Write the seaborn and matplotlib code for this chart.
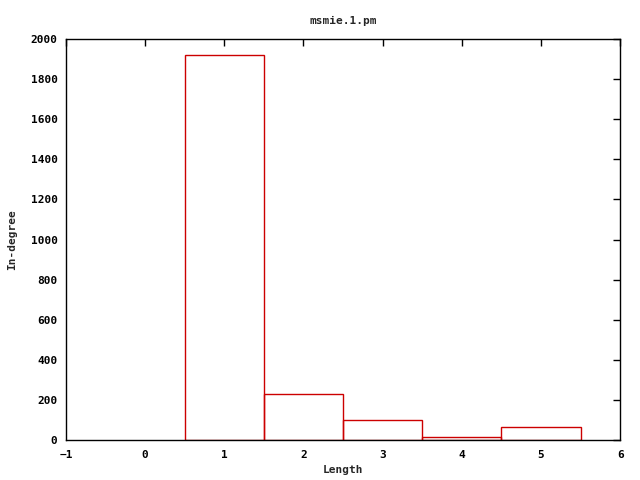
import matplotlib
matplotlib.use("Agg")
import matplotlib.pyplot as plt
import seaborn as sns
import pandas as pd

# Data
lengths = [1, 2, 3, 4, 5]
in_degree = [1918, 228, 98, 18, 68]

df = pd.DataFrame({"Length": lengths, "In-degree": in_degree})

sns.set_style("white")
plt.rcParams['font.family'] = ['DejaVu Sans Mono', 'DejaVu Sans']
plt.rcParams['font.size'] = 8
plt.rcParams['font.weight'] = 'bold'

fig = plt.figure(figsize=(6.4, 4.8), dpi=100)
ax = fig.add_axes([0.103, 0.083, 0.866, 0.836])

sns.histplot(data=df, x="Length", weights="In-degree", discrete=True,
             fill=False, color="#cc0000", linewidth=1, ax=ax)

ax.set_xlim(-1, 6)
ax.set_ylim(0, 2000)
ax.set_xticks(range(-1, 7))
ax.set_yticks(range(0, 2001, 200))
ax.tick_params(direction="in", top=True, right=True, length=5, width=1,
               labelsize=8, colors="black")
ax.tick_params(axis="x", pad=7)
ax.tick_params(axis="y", pad=6)
for lbl in ax.get_xticklabels() + ax.get_yticklabels():
    lbl.set_fontweight("bold")
for s in ax.spines.values():
    s.set_color("black")
    s.set_linewidth(1)
    s.set_zorder(5)

ax.set_xlabel("Length", fontsize=8, fontweight="bold", labelpad=4)
ax.set_ylabel("In-degree", fontsize=8, fontweight="bold", labelpad=10)
ax.set_title("msmie.1.pm", fontsize=8, fontweight="bold", pad=11)

fig.savefig("out.png", dpi=100)
